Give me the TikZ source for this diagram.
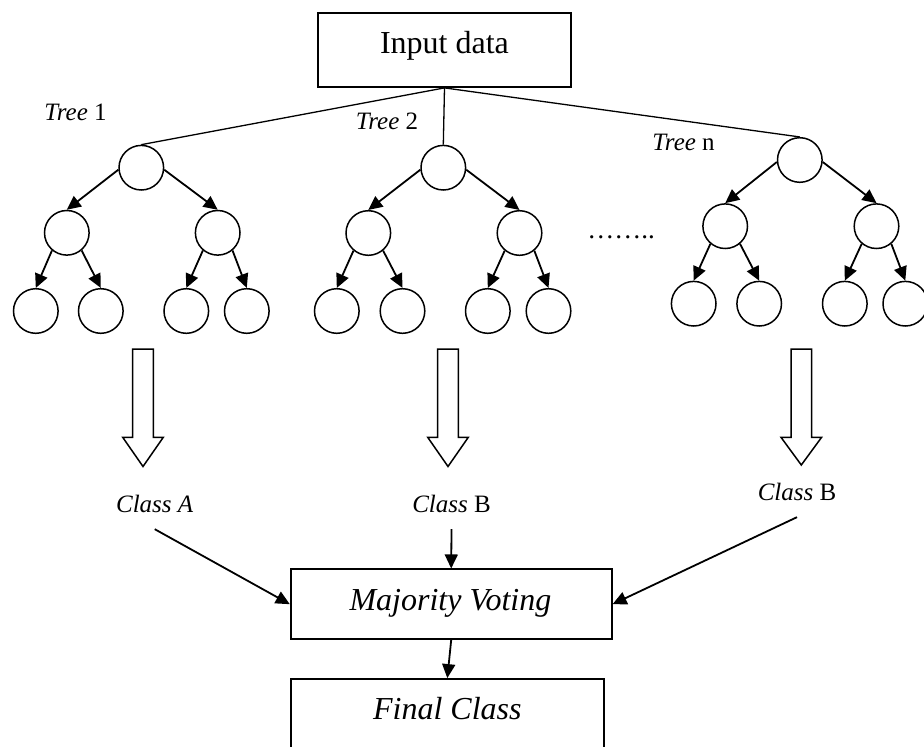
\documentclass[tikz,border=0pt]{standalone}
\usepackage{fontspec}
\setmainfont{Liberation Serif}
\usetikzlibrary{arrows.meta}
\begin{document}
\begin{tikzpicture}[x=1pt,y=-1pt,
  treenode/.style={circle,draw,line width=1.5pt,minimum size=44.6pt,inner sep=0pt},
  branch/.style={line width=1.8pt,-{Triangle[length=14pt,width=13pt]}},
  stem/.style={line width=1.3pt},
  box/.style={draw,line width=1.8pt,inner sep=0pt},
  lbl/.style={font=\fontsize{25}{30}\selectfont,anchor=base,inner sep=0pt},
  boxlbl/.style={font=\fontsize{32}{38}\selectfont,anchor=base,inner sep=0pt},
  classlbl/.style={font=\fontsize{25}{30}\selectfont,anchor=base,inner xsep=0pt,inner ysep=16pt},
  hollow/.style={draw,line width=1.5pt,fill=white,line join=miter}]
\useasboundingbox (0,0) rectangle (924,747);

% input box
\node[box,minimum width=253pt,minimum height=74pt] (input) at (444.5,50) {};
\node[boxlbl] (inputtxt) at (444.5,53) {Input data};

% three trees: root, two children, four leaves each
\foreach \t/\rx/\ry/\ax/\bx/\cy/\la/\lb/\lc/\ld/\ly in {
  1/141.3/167.7/66.8/217.7/232.8/35.8/100.8/186.3/246.8/311,
  2/443.3/167.7/368.3/519.5/233/336.8/402.5/487.8/548.5/311,
  n/799.8/160/725.2/876.5/226.2/693.7/759.2/844.8/905.3/303.7}{
  \node[treenode] (root\t) at (\rx,\ry) {};
  \node[treenode] (left\t) at (\ax,\cy) {};
  \node[treenode] (right\t) at (\bx,\cy) {};
  \node[treenode] (leafa\t) at (\la,\ly) {};
  \node[treenode] (leafb\t) at (\lb,\ly) {};
  \node[treenode] (leafc\t) at (\lc,\ly) {};
  \node[treenode] (leafd\t) at (\ld,\ly) {};
  \draw[branch] (root\t.-175) -- (left\t.north);
  \draw[branch] (root\t.-5) -- (right\t.north);
  \draw[branch] (left\t.-130) -- (leafa\t.north);
  \draw[branch] (left\t.-50) -- (leafb\t.north);
  \draw[branch] (right\t.-130) -- (leafc\t.north);
  \draw[branch] (right\t.-50) -- (leafd\t.north);
  \draw[stem] (input.south) -- (root\t.north);
}

% tree labels
\node[lbl] (t1) at (75.5,120.7) {\textit{Tree} 1};
\node[lbl] (t2) at (387,129) {\textit{Tree} 2};
\node[lbl] (tn) at (683.6,150.7) {\textit{Tree} n};
\node[lbl,font=\fontsize{27}{30}\selectfont] (dots) at (621,238.5) {……..};

% hollow block arrows from each tree to its class
\foreach \cx/\tip in {143/466.5,448/466.5,801.3/465}{
  \draw[hollow] (\cx-10.3,349) -- (\cx+10.3,349) -- (\cx+10.3,437.3)
    -- (\cx+20.3,437.3) -- (\cx,\tip) -- (\cx-20.3,437.3)
    -- (\cx-10.3,437.3) -- cycle;
}

% class outputs
\node[classlbl] (ca) at (154.7,512.7) {\textit{Class A}};
\node[classlbl] (cb) at (451.5,512.7) {\textit{Class} B};
\node[classlbl] (cc) at (797,500.7) {\textit{Class} B};

% voting and final boxes
\node[box,minimum width=321pt,minimum height=69.7pt] (vote) at (451.2,604.2) {};
\node[boxlbl] (votetxt) at (450.4,610) {\textit{Majority Voting}};
\node[box,minimum width=313.3pt,minimum height=100pt] (final) at (447.3,729) {};
\node[boxlbl] (finaltxt) at (447.3,719.3) {\textit{Final Class}};

\draw[branch] (ca.south) -- (vote.west);
\draw[branch] (cb.south) -- (vote.north);
\draw[branch] (cc.south) -- (vote.east);
\draw[branch] (vote.south) -- (final.north);
\end{tikzpicture}
\end{document}
